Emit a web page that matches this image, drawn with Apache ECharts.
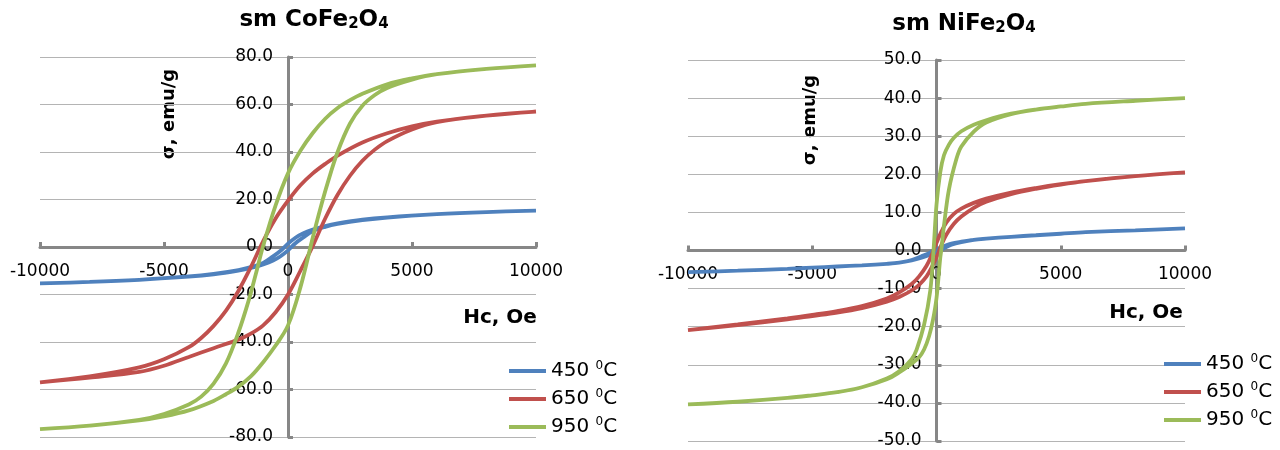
<!DOCTYPE html>
<html><head><meta charset="utf-8">
<script src="https://cdn.jsdelivr.net/npm/echarts@6/dist/echarts.min.js"></script>
<style>html,body{margin:0;padding:0;background:#fff}#c{width:1280px;height:450px}</style>
</head><body><div id="c"></div>
<script>
// ---------- data ----------
const temps = ['450', '650', '950'];
const chartTitles = [['sm CoFe', '2', 'O', '4'], ['sm NiFe', '2', 'O', '4']];
const hTicks = [-10000, -5000, 0, 5000, 10000];
const coYTicks = [-80, -60, -40, -20, 0, 20, 40, 60, 80];
const niYTicks = [-50, -40, -30, -20, -10, 0, 10, 20, 30, 40, 50];

// CoFe2O4 loops: [H (Oe), sigma (emu/g)], descending branch then ascending branch
const co450 = [[10000,15.3],[8000,14.7],[6000,13.8],[4000,12.5],[3000,11.5],[2000,9.9],[1500,8.8],[1000,7.3],[600,5.7],[300,3.9],[0,1.4],[-300,-1.6],[-600,-3.9],[-1000,-6.7],[-1500,-8.5],[-2000,-9.7],[-3000,-11.3],[-4000,-12.4],[-6000,-13.8],[-8000,-14.7],[-10000,-15.3],
  [-8000,-14.7],[-6000,-13.8],[-4000,-12.5],[-3000,-11.5],[-2000,-9.9],[-1500,-8.8],[-1000,-7.3],[-600,-5.7],[-300,-3.9],[0,-1.4],[300,1.6],[600,3.9],[1000,6.7],[1500,8.5],[2000,9.7],[3000,11.3],[4000,12.4],[6000,13.8],[8000,14.7],[10000,15.3]];
const co650 = [[10000,57.0],[8000,55.3],[6000,52.8],[5000,50.8],[4000,47.9],[3000,44.0],[2000,38.5],[1500,35.0],[1000,31.0],[500,26.0],[0,19.5],[-500,12.0],[-1000,2.5],[-1500,-8.5],[-2000,-18.5],[-2500,-26.8],[-3000,-33.2],[-3500,-38.3],[-4000,-42.2],[-5000,-47.3],[-6000,-50.7],[-8000,-54.5],[-10000,-57.0],
  [-8000,-55.0],[-6000,-52.6],[-5000,-50.0],[-4000,-46.3],[-3000,-42.6],[-2000,-39.0],[-1500,-36.5],[-1000,-33.0],[-500,-27.5],[0,-20.0],[500,-10.0],[1000,0.5],[1500,12.0],[2000,22.0],[2500,30.0],[3000,36.3],[3500,41.0],[4000,44.6],[5000,49.5],[6000,52.6],[8000,55.3],[10000,57.0]];
const co950 = [[10000,76.5],[8000,75.0],[6000,72.8],[5000,71.0],[4000,68.5],[3000,64.5],[2500,61.8],[2000,58.5],[1500,54.0],[1000,48.0],[500,40.5],[0,31.0],[-500,17.5],[-1000,0.5],[-1300,-11.5],[-1600,-23.0],[-2000,-36.0],[-2500,-49.0],[-3000,-57.5],[-3500,-63.0],[-4000,-66.3],[-5000,-70.3],[-6000,-72.8],[-8000,-75.2],[-10000,-76.7],
  [-8000,-75.2],[-6000,-73.0],[-5000,-71.3],[-4000,-68.8],[-3000,-64.8],[-2500,-62.0],[-2000,-58.8],[-1500,-54.5],[-1000,-48.5],[-500,-41.5],[0,-33.0],[500,-17.0],[1000,4.0],[1300,16.0],[1600,27.0],[2000,40.0],[2500,52.0],[3000,59.5],[3500,64.0],[4000,67.0],[5000,70.5],[6000,72.8],[8000,75.0],[10000,76.5]];

// NiFe2O4 loops
const ni450 = [[10000,5.8],[8000,5.3],[6000,4.8],[5000,4.4],[4000,4.0],[3000,3.6],[2000,3.1],[1500,2.8],[1000,2.3],[600,1.8],[300,1.1],[0,0.3],[-300,-0.7],[-600,-1.5],[-1000,-2.5],[-1500,-3.2],[-2000,-3.5],[-3000,-3.9],[-4000,-4.2],[-5000,-4.5],[-6000,-4.8],[-8000,-5.3],[-10000,-5.7],
  [-8000,-5.3],[-6000,-4.8],[-5000,-4.5],[-4000,-4.2],[-3000,-3.9],[-2000,-3.5],[-1500,-3.2],[-1000,-2.6],[-600,-1.9],[-300,-1.2],[0,-0.4],[300,0.6],[600,1.5],[1000,2.2],[1500,2.8],[2000,3.1],[3000,3.6],[4000,4.0],[5000,4.4],[6000,4.8],[8000,5.3],[10000,5.8]];
const ni650 = [[10000,20.5],[8000,19.5],[6000,18.2],[5000,17.4],[4000,16.4],[3000,15.2],[2000,13.6],[1500,12.5],[1000,11.0],[700,9.6],[400,7.4],[200,5.0],[0,2.0],[-200,-1.3],[-400,-4.0],[-700,-6.8],[-1000,-8.8],[-1500,-11.0],[-2000,-12.6],[-3000,-14.6],[-4000,-15.9],[-5000,-16.9],[-6000,-17.8],[-8000,-19.4],[-10000,-20.9],
  [-8000,-19.6],[-6000,-18.1],[-5000,-17.2],[-4000,-16.3],[-3000,-15.1],[-2000,-13.4],[-1500,-12.2],[-1000,-10.5],[-700,-9.0],[-400,-6.8],[-200,-4.5],[0,-1.8],[200,1.5],[400,4.2],[700,7.0],[1000,8.9],[1500,11.2],[2000,12.8],[3000,14.8],[4000,16.2],[5000,17.3],[6000,18.2],[8000,19.5],[10000,20.5]];
const ni950 = [[10000,40.0],[8000,39.3],[6000,38.5],[5000,37.8],[4000,37.0],[3000,35.9],[2000,34.2],[1500,33.0],[1000,31.3],[700,29.6],[500,27.8],[300,25.0],[150,20.5],[0,12.0],[-120,0.0],[-250,-10.5],[-500,-19.5],[-800,-26.0],[-1000,-28.5],[-1500,-31.7],[-2000,-33.6],[-3000,-35.9],[-4000,-37.2],[-5000,-38.0],[-6000,-38.7],[-8000,-39.7],[-10000,-40.4],
  [-8000,-39.7],[-6000,-38.7],[-5000,-38.0],[-4000,-37.2],[-3000,-35.9],[-2000,-33.8],[-1500,-32.0],[-1000,-29.7],[-700,-28.0],[-500,-26.0],[-300,-22.5],[-150,-18.5],[0,-12.5],[150,-2.0],[200,0.5],[300,6.5],[500,16.0],[800,24.0],[1000,27.3],[1500,31.2],[2000,33.6],[3000,35.8],[4000,37.0],[5000,37.8],[6000,38.5],[8000,39.3],[10000,40.0]];

const coSeries = [co450, co650, co950];
const niSeries = [ni450, ni650, ni950];

// ---------- styling ----------
const FONT = '"DejaVu Sans", "Liberation Sans", sans-serif';
const palette = ['#4F81BD', '#C0504D', '#9BBB59'];
const axisGray = '#878787';
const gridGray = '#b4b4b4';
const grids = [
  { left: 40, top: 57, width: 496, height: 380 },
  { left: 688, top: 60, width: 497, height: 381 }
];

function xAxisCfg(idx) {
  return {
    type: 'value', gridIndex: idx, position: 'bottom',
    offset: -grids[idx].height / 2,
    min: hTicks[0], max: hTicks[hTicks.length - 1], interval: hTicks[1] - hTicks[0],
    axisLine: { show: true, onZero: false, lineStyle: { color: axisGray, width: 3 } },
    axisTick: { show: true, inside: true, length: 5, lineStyle: { color: axisGray, width: 3 } },
    axisLabel: { color: '#000', fontSize: 17, fontFamily: FONT, margin: 16, formatter: v => String(v) },
    splitLine: { show: false }
  };
}
function yAxisCfg(idx, ticks) {
  return {
    type: 'value', gridIndex: idx, position: 'left',
    offset: -grids[idx].width / 2,
    min: ticks[0], max: ticks[ticks.length - 1], interval: ticks[1] - ticks[0],
    axisLine: { show: true, onZero: false, lineStyle: { color: axisGray, width: 3 } },
    axisTick: { show: true, inside: true, length: 5, lineStyle: { color: axisGray, width: 3 } },
    axisLabel: { color: '#000', fontSize: 17, fontFamily: FONT, margin: 15, formatter: v => v.toFixed(1) },
    splitLine: { show: true, lineStyle: { color: gridGray, width: 1 } }
  };
}

const series = [];
[coSeries, niSeries].forEach((group, gi) => {
  group.forEach((data, si) => {
    series.push({
      type: 'line', name: temps[si] + ' °C',
      xAxisIndex: gi, yAxisIndex: gi,
      data: data, symbol: 'none', showSymbol: false, smooth: 0.35,
      lineStyle: { color: palette[si], width: 3.8 },
      itemStyle: { color: palette[si] },
      emphasis: { disabled: true }
    });
  });
});

function legendCfg(left, top) {
  return {
    orient: 'vertical', left: left, top: top,
    icon: 'rect', itemWidth: 37, itemHeight: 4, itemGap: 7,
    data: temps.map(t => t + ' °C'),
    formatter: name => '{a|' + name.split(' ')[0] + ' }{b|0}{a|C}',
    textStyle: {
      color: '#000', fontSize: 20, fontFamily: FONT,
      rich: {
        a: { fontSize: 20, fontFamily: FONT, color: '#000', lineHeight: 22 },
        b: { fontSize: 12, fontFamily: FONT, color: '#000', verticalAlign: 'top', lineHeight: 14 }
      }
    },
    selectedMode: false
  };
}

function titleText(parts, x, y) {
  return {
    type: 'text', x: x, y: y,
    style: {
      text: '{t|' + parts[0] + '}{s|' + parts[1] + '}{t|' + parts[2] + '}{s|' + parts[3] + '}',
      align: 'center', verticalAlign: 'middle',
      rich: {
        t: { fontSize: 23, fontWeight: 'bold', fontFamily: FONT, fill: '#000', color: '#000' },
        s: { fontSize: 15, fontWeight: 'bold', fontFamily: FONT, fill: '#000', color: '#000', verticalAlign: 'bottom' }
      }
    }
  };
}
function plainText(text, x, y, size, rot) {
  return {
    type: 'text', x: x, y: y, rotation: rot || 0,
    style: { text: text, align: 'center', verticalAlign: 'middle', fill: '#000',
      font: 'bold ' + size + 'px ' + FONT }
  };
}

const chart = echarts.init(document.getElementById('c'), null, { renderer: 'canvas' });
chart.setOption({
  animation: false,
  backgroundColor: '#fff',
  grid: grids.map(g => Object.assign({ outerBoundsMode: 'none', containLabel: false }, g)),
  xAxis: [xAxisCfg(0), xAxisCfg(1)],
  yAxis: [yAxisCfg(0, coYTicks), yAxisCfg(1, niYTicks)],
  legend: [legendCfg(504, 355), legendCfg(1159, 348)],
  series: series,
  graphic: [
    titleText(chartTitles[0], 314, 20),
    titleText(chartTitles[1], 964, 24),
    plainText('σ, emu/g', 169, 114, 18, Math.PI / 2),
    plainText('σ, emu/g', 810, 120, 18, Math.PI / 2),
    plainText('Hc, Oe', 500, 318, 20, 0),
    plainText('Hc, Oe', 1146, 313, 20, 0)
  ]
});
</script>
</body></html>
